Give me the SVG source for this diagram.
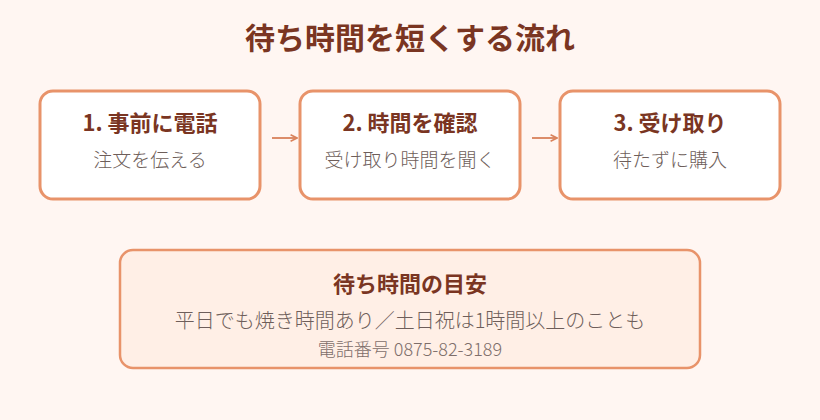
<svg xmlns="http://www.w3.org/2000/svg" width="820" height="420" viewBox="0 0 820 420">
  <defs>
    <style>
      text { font-family: "Noto Sans CJK JP", "Noto Sans", sans-serif; text-anchor: middle; }
      .title { font-size: 30px; font-weight: 700; fill: #7A3522; }
      .head { font-size: 22px; font-weight: 700; fill: #7A3522; }
      .sub { font-size: 19px; font-weight: 300; fill: #6E5E5A; }
      .line { font-size: 20px; font-weight: 300; fill: #6E5E5A; }
      .small { font-size: 18px; font-weight: 300; fill: #7E6E6A; }
      .step { fill: #FFFFFF; stroke: #E8936A; stroke-width: 3; }
      .note { fill: #FFEFE6; stroke: #E8936A; stroke-width: 2.5; }
      .conn { stroke: #D9825B; stroke-width: 1.8; fill: none; }
    </style>
    <marker id="arr" viewBox="0 0 10 10" refX="9" refY="5" markerWidth="8" markerHeight="8" markerUnits="userSpaceOnUse" orient="auto">
      <path d="M1,1 L9,5 L1,9" fill="none" stroke="#D9825B" stroke-width="2"/>
    </marker>
  </defs>
  <rect width="820" height="420" fill="#FFF6F2"/>
  <text class="title" x="410" y="49">待ち時間を短くする流れ</text>

  <g id="step1">
    <rect class="step" x="40" y="91" width="220" height="108" rx="13"/>
    <text class="head" x="150" y="131">1. 事前に電話</text>
    <text class="sub" x="150" y="167">注文を伝える</text>
  </g>
  <g id="step2">
    <rect class="step" x="300" y="91" width="220" height="108" rx="13"/>
    <text class="head" x="410" y="131">2. 時間を確認</text>
    <text class="sub" x="410" y="167">受け取り時間を聞く</text>
  </g>
  <g id="step3">
    <rect class="step" x="560" y="91" width="220" height="108" rx="13"/>
    <text class="head" x="670" y="131">3. 受け取り</text>
    <text class="sub" x="670" y="167">待たずに購入</text>
  </g>

  <g id="connectors">
    <line class="conn" x1="272" y1="138" x2="297" y2="138" marker-end="url(#arr)"/>
    <line class="conn" x1="532" y1="138" x2="557" y2="138" marker-end="url(#arr)"/>
  </g>

  <g id="note">
    <rect class="note" x="120" y="250" width="580" height="118" rx="13"/>
    <text class="head" x="410" y="292">待ち時間の目安</text>
    <text class="line" x="410" y="328">平日でも焼き時間あり／土日祝は1時間以上のことも</text>
    <text class="small" x="410" y="356">電話番号 0875-82-3189</text>
  </g>
</svg>
